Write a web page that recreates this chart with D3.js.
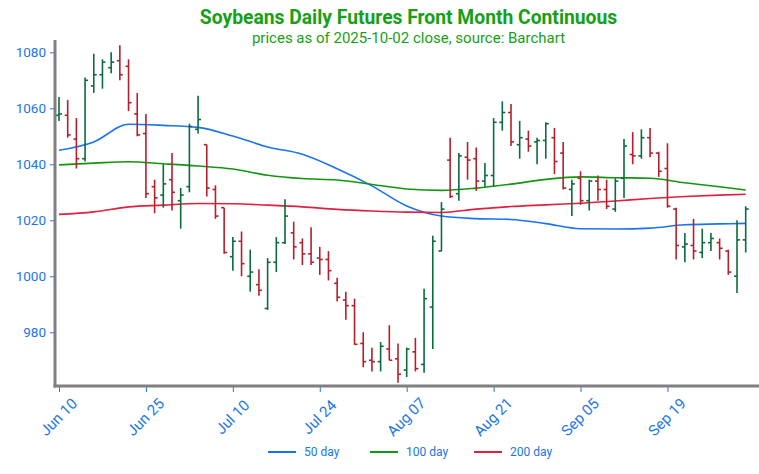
<!DOCTYPE html>
<meta charset="utf-8">
<html>
  <head>
    <script src="https://d3js.org/d3.v7.min.js"></script>
    <style>
      body { margin: 0; background: #fff; }
      text { font-family: Roboto, "Liberation Sans", sans-serif; }
    </style>
  </head>
  <body>
    <div id="chart"></div>
    <script type="text/javascript">

      // daily bars, Jun 10 .. Oct 02 (trading days)
      var open = [1057.5,1057.5,1049,1042,1068,1072,1074.5,1077,1075,1058,
                  1051,1032,1029,1034.5,1027,1032,1052.5,1047,1031,1024.5,
                  1007,1012.5,1000,997,988.5,1005,1012,1015.5,1012,1008,
                  1006.5,1006,997.5,991.5,989.5,976,970,969.5,974,970.5,
                  966.5,973,968.5,989,1009,1041.5,1029.5,1042.5,1042,1034,
                  1036,1055,1058.5,1047,1049,1048,1048.5,1049.5,1044,1031,
                  1035,1027,1034,1031,1024,1035,1043.5,1043,1049.5,1044,
                  1038.5,1024,1010.5,1011,1008.5,1012,1012,1009,1000,1013];
      var high = [1064,1063,1056.5,1071,1079.5,1077.5,1080,1082.5,1077.5,1065.5,
                  1058,1034.5,1040,1044,1031.5,1054.5,1064.5,1047,1032.5,1024.5,
                  1014,1016,1009.5,1002.5,1006.5,1014,1027.5,1019.5,1013.5,1017.5,
                  1010.5,1009,999.5,994.5,992,980,974.5,976.5,982.5,976,
                  974.5,978,995.5,1014.5,1026.5,1049.5,1044,1048,1046,1040.5,
                  1056.5,1062.5,1061.5,1055.5,1052,1049.5,1055,1053,1048,1034.5,
                  1037.5,1034.5,1036,1034.5,1035,1049,1051.5,1052.5,1053,1044.5,
                  1047.5,1024.5,1015.5,1020.5,1017,1015.5,1013.5,1009.5,1020,1025];
      var low = [1055.5,1049.5,1038.5,1041,1065.5,1067,1072.5,1070,1059,1050,
                 1028,1022.5,1024.5,1023.5,1017,1030,1051,1028.5,1020.5,1008,
                 1002,1000,994.5,993,988,1001.5,1011.5,1006,1004,1004,
                 1000.5,998.5,991,984.5,975.5,967.5,966,966,970,962,
                 964,966,965.5,974,1009,1028,1027,1034.5,1030.5,1032,
                 1032,1052,1046.5,1042,1044.5,1040,1042,1036.5,1031,1021.5,
                 1025.5,1023.5,1027,1024,1023,1028,1040,1042,1042.5,1035.5,
                 1024.5,1006,1005,1006,1006.5,1009,1006,1000.5,994,1008.5];
      var close = [1058,1050.5,1042,1070,1072,1076.5,1076.5,1072,1062,1050.5,
                   1029.5,1028,1033,1030,1029,1053.5,1056,1031.5,1021.5,1008.5,
                   1012.5,1004.5,1001.5,995,1005,1012,1021.5,1010.5,1008,1005,
                   1006,1002,992.5,989.5,975.7,969.5,969.5,975,970,965,
                   974,967,992,1012.5,1024,1028.5,1043,1041.5,1034,1036,
                   1055,1058.5,1048,1049.5,1046.5,1048.5,1054.5,1041,1031.5,1033,
                   1027,1034,1031,1025,1034,1046.5,1043,1049.5,1044,1037.5,
                   1025,1011,1011.5,1009,1012,1013.5,1010,1001.5,1013,1024];

      // moving averages, read every 4th bar
      var maIdx  = [0,4,8,12,16,20,24,28,32,36,40,44,48,52,56,60,64,68,72,76,79];
      var ma50   = [1045,1048,1054.3,1053.9,1053.2,1050.1,1046.2,1043.6,1038.4,1032.3,1025.1,1021.5,1020.6,1020.3,1018.8,1017,1016.9,1017.2,1018.4,1018.7,1018.9];
      var ma100  = [1039.8,1040.4,1040.9,1040.2,1039.4,1038.3,1036.1,1034.9,1034.4,1032.8,1031.2,1030.7,1031.5,1032.9,1034.6,1035.5,1035.2,1035,1033.4,1032,1030.8];
      var ma200  = [1022.1,1023,1024.8,1025.4,1026,1025.9,1025.4,1024.8,1023.9,1023.3,1022.9,1022.8,1024,1024.9,1025.5,1026.1,1026.9,1027.8,1028.5,1029,1029.3];

      var tickIdx = [0,10,20,30,40,50,60,70];
      var tickLabels = ["Jun 10","Jun 25","Jul 10","Jul 24","Aug 07","Aug 21","Sep 05","Sep 19"];
      var yTicks = [980,1000,1020,1040,1060,1080];

      var maNames = ["50 day","100 day","200 day"];
      var maColors = ["#1a73f0","#129612","#e0203f"];
      var upColor = "#0a6b3c", downColor = "#b3202c";
      var blue = "#2176e6", green = "#16a016";

      var width = 759, height = 474;

      var svg = d3.select("#chart").append("svg")
          .attr("width", width)
          .attr("height", height);

      var x = d3.scaleLinear().domain([0, 79]).range([59, 745.7]);
      var y = d3.scaleLinear().domain([960.8, 1084.4]).range([386, 40]);

      // title
      svg.append("text")
          .attr("x", 408.5).attr("y", 23.5)
          .attr("text-anchor", "middle")
          .style("font-size", "19.3px").style("font-weight", "bold")
          .attr("fill", green)
          .text("Soybeans Daily Futures Front Month Continuous");
      svg.append("text")
          .attr("x", 408.5).attr("y", 42.5)
          .attr("text-anchor", "middle")
          .style("font-size", "15px")
          .attr("fill", green)
          .text("prices as of 2025-10-02 close, source: Barchart");

      // moving averages
      var maSeries = [ma50, ma100, ma200];
      maSeries.forEach(function(vals, k) {
        var line = d3.line()
            .x(function(d, i) { return x(maIdx[i]); })
            .y(function(d) { return y(d); })
            .curve(d3.curveMonotoneX);
        svg.append("path")
            .datum(vals)
            .attr("d", line)
            .attr("fill", "none")
            .attr("stroke", maColors[k])
            .attr("stroke-width", 1.6);
      });

      // OHLC bars
      var bars = svg.append("g").selectAll("g")
          .data(d3.range(open.length))
          .enter().append("g")
          .attr("stroke", function(i) { return close[i] >= open[i] ? upColor : downColor; })
          .attr("stroke-width", 1.6);

      bars.append("line")
          .attr("x1", function(i) { return x(i); })
          .attr("x2", function(i) { return x(i); })
          .attr("y1", function(i) { return y(high[i]); })
          .attr("y2", function(i) { return y(low[i]); });
      bars.append("line")
          .attr("x1", function(i) { return x(i) - 3; })
          .attr("x2", function(i) { return x(i); })
          .attr("y1", function(i) { return y(open[i]); })
          .attr("y2", function(i) { return y(open[i]); });
      bars.append("line")
          .attr("x1", function(i) { return x(i); })
          .attr("x2", function(i) { return x(i) + 3; })
          .attr("y1", function(i) { return y(close[i]); })
          .attr("y2", function(i) { return y(close[i]); });

      // y axis
      var yAxis = svg.append("g")
          .attr("transform", "translate(55,0)")
          .call(d3.axisLeft(y).tickValues(yTicks).tickFormat(d3.format("d")).tickSize(5).tickPadding(4));
      yAxis.select(".domain").remove();
      yAxis.selectAll(".tick line").attr("stroke", blue);
      yAxis.selectAll(".tick text").attr("fill", blue).style("font-size", "13.5px");

      // x axis
      var xAxis = svg.append("g")
          .attr("transform", "translate(0,387)")
          .call(d3.axisBottom(x).tickValues(tickIdx)
                .tickFormat(function(d, i) { return tickLabels[i]; })
                .tickSize(5));
      xAxis.select(".domain").remove();
      xAxis.selectAll(".tick line").attr("stroke", blue);
      xAxis.selectAll(".tick text")
          .attr("fill", blue)
          .style("font-size", "15px")
          .attr("y", 0).attr("dy", "0.35em")
          .attr("transform", "translate(-1,30) rotate(-45)")
          .attr("text-anchor", "middle");

      // frame lines (left and bottom)
      svg.append("line").attr("x1", 55).attr("x2", 55).attr("y1", 40).attr("y2", 387.5)
          .attr("stroke", "#808080").attr("stroke-width", 3);
      svg.append("line").attr("x1", 53.5).attr("x2", 759).attr("y1", 386).attr("y2", 386)
          .attr("stroke", "#808080").attr("stroke-width", 3);

      // legend
      var legend = svg.append("g").selectAll("g")
          .data(maNames)
          .enter().append("g")
          .attr("transform", function(d, i) { return "translate(" + [268, 370, 474][i] + ",452)"; });
      legend.append("line")
          .attr("x1", 0).attr("x2", 28)
          .attr("stroke", function(d, i) { return maColors[i]; })
          .attr("stroke-width", 2);
      legend.append("text")
          .attr("x", 36).attr("dy", "0.35em")
          .attr("fill", blue)
          .style("font-size", "12px")
          .text(function(d) { return d; });
    </script>
  </body>
</html>
